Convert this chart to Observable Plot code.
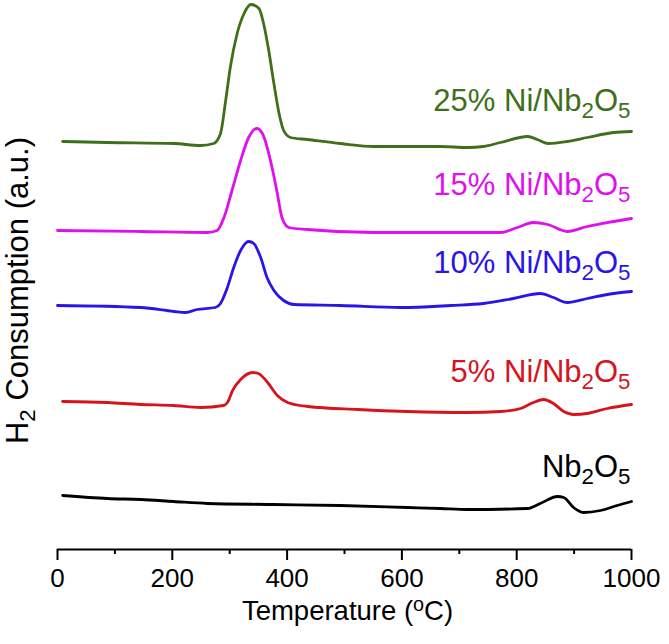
<!DOCTYPE html>
<html>
<head>
<meta charset="utf-8">
<script src="https://cdn.jsdelivr.net/npm/d3@7"></script>
<script src="https://cdn.jsdelivr.net/npm/@observablehq/plot@0.6"></script>
<style>
  html, body { margin: 0; padding: 0; background: #fff; }
</style>
</head>
<body>
<div id="chart"></div>
<script>
// ---- data (temperature in °C, H2 consumption in arbitrary units) ----
const seriesNames = ["25% Ni/Nb_2O_5", "15% Ni/Nb_2O_5", "10% Ni/Nb_2O_5", "5% Ni/Nb_2O_5", "Nb_2O_5"];
const seriesColors = ["#3d7019", "#e010ee", "#2a14e8", "#d5141c", "#000000"];

const ni25_T = [9,87,203,249,272,284,293,301,313,325,337,351,359,368,377,386,394,406,435,493,551,598,667,714,742,772,819,836,854,888,923,969,1000];
const ni25_H = [408,407,406,404,406,416,449,482,516,536,545,541,526,499,466,436,419,412,410,406,403,403,403,402,403,407,413,410,406,408,412,417,418];

const ni15_T = [0,145,261,278,290,304,319,333,347,357,371,383,391,403,435,551,667,772,801,829,854,888,923,969,1000];
const ni15_H = [319,318,317,319,332,359,389,412,421,416,389,356,332,322,320,317,317,317,322,327,325,318,323,328,331];

const ni10_T = [0,145,203,223,243,275,284,296,307,319,333,342,354,365,377,394,412,493,598,685,742,794,841,864,888,923,969,1000];
const ni10_H = [244,242,238,237,240,242,246,262,282,299,308,306,292,272,259,249,245,244,242,244,246,251,256,252,247,251,256,258];

const ni5_T = [9,87,145,202,249,289,296,305,319,340,350,366,383,401,436,523,610,714,772,807,829,847,864,882,899,923,958,1000];
const ni5_H = [148,147,145,144,142,144,147,159,170,177,176,167,154,147,143,140,138,137,138,141,147,150,146,138,135,136,141,145];

const nb_T = [9,87,145,202,261,376,493,610,667,714,819,841,871,882,899,916,946,975,1000];
const nb_H = [54,51,50,48,46,45,44,42,41,40,41,46,53,52,42,37,39,44,48];

const labelHeights = [439, 355, 277, 168, 73];

const majorTicks = [0, 200, 400, 600, 800, 1000];
const minorTicks = [100, 300, 500, 700, 900];
const xTitle = "Temperature (^oC)";
const yTitle = "H_2 Consumption (a.u.)";

// ---- build table ----
const allT = [ni25_T, ni15_T, ni10_T, ni5_T, nb_T];
const allH = [ni25_H, ni15_H, ni10_H, ni5_H, nb_H];
const rows = [];
allT.forEach((Ts, s) => Ts.forEach((t, i) => rows.push({series: seriesNames[s], T: t, H: allH[s][i]})));
const labels = seriesNames.map((name, i) => ({name, H: labelHeights[i], color: seriesColors[i]}));

const chart = Plot.plot({
  width: 669,
  height: 644,
  marginLeft: 57,
  marginRight: 38,
  marginTop: 4,
  marginBottom: 95,
  style: {fontFamily: "'Liberation Sans', Arial, sans-serif", background: "#fff", overflow: "visible", color: "#000"},
  x: {domain: [0, 1000]},
  y: {domain: [0, 545], axis: null},
  color: {domain: seriesNames, range: seriesColors},
  marks: [
    Plot.line(rows, {x: "T", y: "H", z: "series", stroke: "series", strokeWidth: 2.8, curve: "monotone-x"}),
    Plot.text(labels, {x: () => 1000, y: "H", text: "name", fill: "color", textAnchor: "end", lineAnchor: "bottom", dx: -1, fontSize: 31}),
    Plot.ruleY([0], {stroke: "#000", strokeWidth: 2}),
    Plot.axisX(majorTicks, {tickSize: 11, tickPadding: 8, strokeWidth: 2, fontSize: 26, tickFormat: d => String(d), label: null}),
    Plot.axisX(minorTicks, {tickSize: 5, strokeWidth: 2, tickFormat: () => "", label: null}),
    Plot.text([xTitle], {text: d => d, frameAnchor: "bottom", lineAnchor: "bottom", dy: 70, dx: 3, fontSize: 27.5}),
    Plot.text([yTitle], {text: d => d, frameAnchor: "left", rotate: -90, lineAnchor: "bottom", textAnchor: "middle", dx: -30, dy: 13.5, fontSize: 31})
  ]
});

document.getElementById("chart").appendChild(chart);

// ---- sub/superscripts rendered as real tspans ----
function richify(el) {
  const s = el.textContent;
  if (!/[_^]/.test(s)) return;
  const fs = parseFloat(getComputedStyle(el).fontSize) || 16;
  const ns = "http://www.w3.org/2000/svg";
  const parts = [];
  let buf = "";
  for (let i = 0; i < s.length; i++) {
    const ch = s[i];
    if ((ch === "_" || ch === "^") && i + 1 < s.length) {
      if (buf) { parts.push({t: buf, m: 0}); buf = ""; }
      parts.push({t: s[i + 1], m: ch === "_" ? 1 : -1});
      i++;
    } else buf += ch;
  }
  if (buf) parts.push({t: buf, m: 0});
  el.textContent = "";
  let shift = 0;
  for (const p of parts) {
    const tsp = document.createElementNS(ns, "tspan");
    const target = p.m === 1 ? 0.24 * fs : p.m === -1 ? -0.3 * fs : 0;
    tsp.setAttribute("dy", (target - shift).toFixed(2));
    shift = target;
    if (p.m) tsp.setAttribute("font-size", (0.72 * fs).toFixed(2));
    tsp.textContent = p.t;
    el.appendChild(tsp);
  }
}
chart.querySelectorAll("text").forEach(richify);
</script>
</body>
</html>
